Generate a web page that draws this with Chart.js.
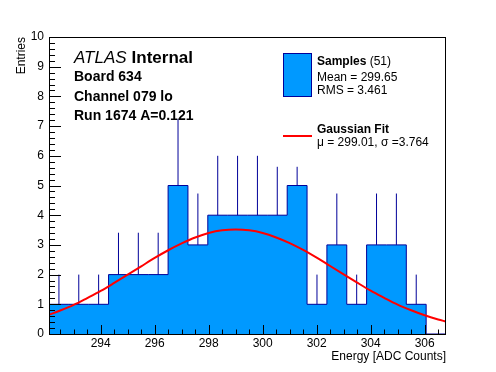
<!DOCTYPE html>
<html><head><meta charset="utf-8">
<script src="https://cdn.jsdelivr.net/npm/chart.js@4.4.1/dist/chart.umd.min.js"></script>
<style>html,body{margin:0;padding:0;background:#fff}#wrap{width:496px;height:372px;position:relative}</style>
</head><body><div id="wrap"><canvas id="c" width="496" height="372"></canvas></div>
<script>
// ---- data ----
const xMin = 292.085;
const xMax = 306.79;
const binCounts = [1, 1, 1, 2, 2, 2, 5, 3, 4, 4, 4, 4, 5, 1, 3, 1, 3, 3, 1, 0];
const errorTops = [2, 2, 2, 3.41, 3.41, 3.41, 7.24, 4.73, 6, 6, 6, 5.63, 5.63, 2, 4.73, 2, 4.73, 4.73, 2, null];
const fitX = [292.085, 292.5, 293, 293.5, 294, 294.5, 295, 295.5, 296, 296.5, 297, 297.5, 298, 298.5, 299, 299.5, 300, 300.5, 301, 301.5, 302, 302.5, 303, 303.5, 304, 304.5, 305, 305.5, 306, 306.5, 306.79];
const fitY = [0.65, 0.79, 0.98, 1.21, 1.45, 1.72, 2.00, 2.28, 2.56, 2.82, 3.05, 3.25, 3.40, 3.49, 3.52, 3.49, 3.40, 3.25, 3.06, 2.83, 2.57, 2.29, 2.01, 1.73, 1.46, 1.22, 0.99, 0.80, 0.63, 0.49, 0.42];
const xTickLabels = [294, 296, 298, 300, 302, 304, 306];
const yTickLabels = [0, 1, 2, 3, 4, 5, 6, 7, 8, 9, 10];
const xTitle = 'Energy [ADC Counts]';
const yTitle = 'Entries';
const infoLines = ['Board 634', 'Channel 079 lo', 'Run 1674 A=0.121'];
const legendSamples = ['Samples', ' (51)', 'Mean = 299.65', 'RMS = 3.461'];
const legendFit = ['Gaussian Fit', 'μ = 299.01, σ =3.764'];

// ---- build datasets from the arrays ----
const nBins = binCounts.length;
const binW = (xMax - xMin) / nBins;
// stepped 'before': horizontal at previous value, then vertical at new x
const histPts = [{x: xMin, y: 0}];
binCounts.forEach((c, i) => {
  histPts.push({x: xMin + i * binW, y: c});
  histPts.push({x: xMin + (i + 1) * binW, y: c});
});
histPts.push({x: xMax, y: 0});
const errPts = [];
binCounts.forEach((c, i) => {
  if (errorTops[i] == null) return;
  const cx = xMin + (i + 0.5) * binW;
  errPts.push({x: cx, y: c}, {x: cx, y: errorTops[i]}, {x: cx, y: null});
});
const fitPts = fitX.map((x, i) => ({x, y: fitY[i]}));

const FONT = '"Liberation Sans", Arial, Helvetica, sans-serif';
const FILL = '#0099ff';
const NAVY = '#000099';

const rootPlugin = {
  id: 'root',
  afterDatasetsDraw(chart) {
    const {ctx, chartArea: a, scales: {x, y}} = chart;
    ctx.save();
    ctx.strokeStyle = '#000';
    ctx.lineWidth = 1;
    ctx.beginPath();
    for (let v = 292; v <= 307.001; v += 0.5) {
      if (v < xMin || v > xMax) continue;
      const px = Math.round(x.getPixelForValue(v)) + 0.5;
      const major = Math.abs(v % 2) < 1e-6;
      const len = major ? 9 : 4.5;
      ctx.moveTo(px, a.bottom);
      ctx.lineTo(px, a.bottom - len);
    }
    for (let k = 0; k <= 50; k++) {
      const v = k * 0.2;
      const py = Math.round(y.getPixelForValue(v)) + 0.5;
      const len = (k % 5 === 0) ? 12 : 6;
      ctx.moveTo(a.left, py);
      ctx.lineTo(a.left + len, py);
    }
    ctx.stroke();
    ctx.strokeRect(Math.round(a.left) + 0.5, Math.round(a.top) + 0.5, Math.round(a.right - a.left) - 1, Math.round(a.bottom - a.top));
    ctx.restore();
  },
  afterDraw(chart) {
    const {ctx, chartArea: a} = chart;
    ctx.save();
    ctx.fillStyle = '#000';
    ctx.textBaseline = 'alphabetic';
    ctx.font = '12px ' + FONT;
    ctx.textAlign = 'right';
    ctx.fillText(xTitle, a.right, 359.5);
    ctx.save();
    ctx.translate(25, a.top);
    ctx.rotate(-Math.PI / 2);
    ctx.textAlign = 'right';
    ctx.fillText(yTitle, 0, 0);
    ctx.restore();
    ctx.textAlign = 'left';
    ctx.font = 'italic 17px ' + FONT;
    ctx.fillText('ATLAS', 74, 62.5);
    const w1 = ctx.measureText('ATLAS').width;
    ctx.font = 'bold 17px ' + FONT;
    ctx.fillText('Internal', 74 + w1 + 5, 62.5);
    ctx.font = 'bold 14px ' + FONT;
    const ys = [81, 100.5, 120];
    infoLines.forEach((t, i) => ctx.fillText(t, 74, ys[i]));
    ctx.fillStyle = FILL;
    ctx.fillRect(283, 53, 29, 44);
    ctx.strokeStyle = NAVY;
    ctx.lineWidth = 1;
    ctx.strokeRect(283.5, 53.5, 28, 43);
    ctx.fillStyle = '#000';
    ctx.font = 'bold 12px ' + FONT;
    ctx.fillText(legendSamples[0], 317, 65);
    const ws = ctx.measureText(legendSamples[0]).width;
    ctx.font = '12px ' + FONT;
    ctx.fillText(legendSamples[1], 317 + ws, 65);
    ctx.fillText(legendSamples[2], 317, 80.5);
    ctx.fillText(legendSamples[3], 317, 94);
    ctx.strokeStyle = '#ff0000';
    ctx.lineWidth = 2;
    ctx.beginPath();
    ctx.moveTo(283, 136);
    ctx.lineTo(312, 136);
    ctx.stroke();
    ctx.font = 'bold 12px ' + FONT;
    ctx.fillText(legendFit[0], 317, 133.3);
    ctx.font = '12px ' + FONT;
    ctx.fillText(legendFit[1], 317, 146);
    ctx.restore();
  }
};

const tickFont = {family: FONT, size: 12};
new Chart(document.getElementById('c').getContext('2d'), {
  type: 'line',
  data: {datasets: [
    {label: 'Gaussian Fit', data: fitPts, borderColor: '#ff0000', borderWidth: 2, pointRadius: 0, fill: false, cubicInterpolationMode: 'monotone', order: 0},
    {label: 'Errors', data: errPts, borderColor: NAVY, borderWidth: 1, pointRadius: 0, fill: false, spanGaps: false, order: 1},
    {label: 'Samples', data: histPts, stepped: 'before', borderColor: NAVY, borderWidth: 1, backgroundColor: FILL, fill: 'origin', pointRadius: 0, order: 2}
  ]},
  options: {
    responsive: false, animation: false, devicePixelRatio: 1,
    layout: {padding: {left: 0, top: 37, right: 50, bottom: 0}},
    plugins: {legend: {display: false}, tooltip: {enabled: false}},
    scales: {
      x: {type: 'linear', min: xMin, max: xMax,
          grid: {display: false, drawTicks: false}, border: {display: false},
          ticks: {padding: 2, color: '#000', font: tickFont, maxRotation: 0, autoSkip: false},
          afterBuildTicks: s => { s.ticks = xTickLabels.map(v => ({value: v})); },
          afterFit: s => { s.height = 38; }},
      y: {type: 'linear', min: 0, max: 10,
          grid: {display: false, drawTicks: false}, border: {display: false},
          ticks: {padding: 5, color: '#000', font: tickFont, autoSkip: false},
          afterBuildTicks: s => { s.ticks = yTickLabels.map(v => ({value: v})); },
          afterFit: s => { s.width = 49; }}
    }
  },
  plugins: [rootPlugin]
});
</script>
</body></html>
